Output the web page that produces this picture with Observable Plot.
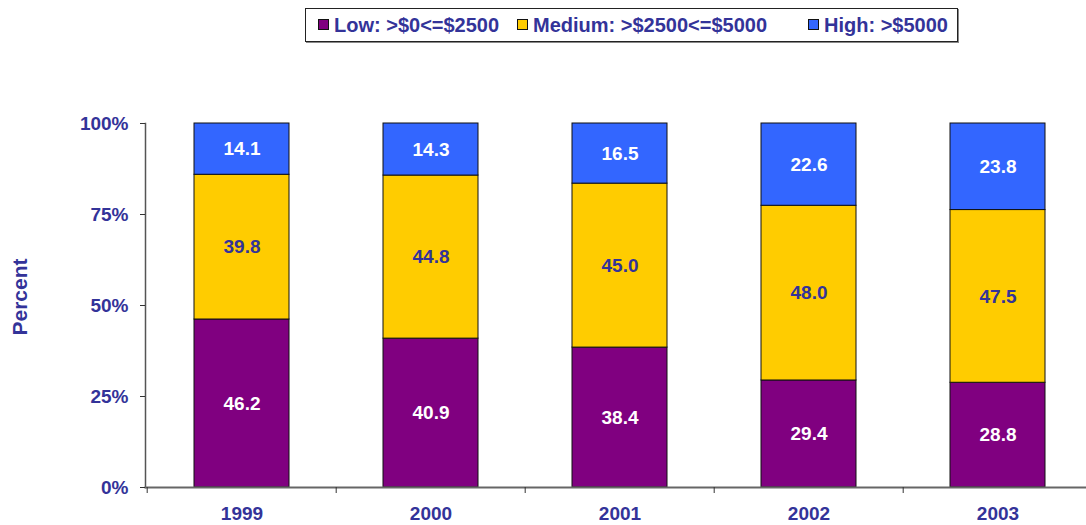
<!DOCTYPE html>
<html>
<head>
<meta charset="utf-8">
<script src="https://cdn.jsdelivr.net/npm/d3@7"></script>
<script src="https://cdn.jsdelivr.net/npm/@observablehq/plot@0.6"></script>
<style>
  html, body { margin: 0; padding: 0; background: #fff; overflow: hidden; }
  #wrap { position: relative; width: 1086px; height: 525px; overflow: hidden; font-family: "Liberation Sans", Arial, sans-serif; }
  #legend { position: absolute; left: 305px; top: 8px; width: 651px; height: 32px; border: 1.5px solid #222; box-shadow: 1px 1px 0 #888; background: #fff; }
  .item { position: absolute; top: 5px; font-weight: bold; font-size: 20px; color: #333399; white-space: nowrap; line-height: 22px; }
  .sw { display: inline-block; width: 9px; height: 9px; border: 1px solid #111; margin-right: 5px; vertical-align: 2px; }
  #ytitle { position: absolute; left: 20px; top: 297px; transform: translate(-50%, -50%) rotate(-90deg); font-weight: bold; font-size: 21px; color: #333399; white-space: nowrap; }
  #chart { position: absolute; left: 0; top: 0; }
</style>
</head>
<body>
<div id="wrap">
  <div id="chart"></div>
  <div id="legend"></div>
  <div id="ytitle">Percent</div>
</div>
<script>
const years = ["1999", "2000", "2001", "2002", "2003"];
const low = [46.2, 40.9, 38.4, 29.4, 28.8];
const medium = [39.8, 44.8, 45.0, 48.0, 47.5];
const high = [14.1, 14.3, 16.5, 22.6, 23.8];
const seriesNames = ["Low: >$0<=$2500", "Medium: >$2500<=$5000", "High: >$5000"];
const seriesColors = ["#800080", "#FFCC00", "#3366FF"];
const yTicks = [0, 0.25, 0.5, 0.75, 1];

const ink = "#333399";
const seriesValues = [low, medium, high];
const data = [];
seriesNames.forEach((s, si) => years.forEach((yr, i) => data.push({year: yr, series: s, value: seriesValues[si][i]})));

const W = 1093, ML = 145, MR = 0;
const halfBand = (W - ML - MR) / years.length / 2;

const stackOpts = {x: "year", y: "value", z: "series", order: seriesNames, offset: "normalize"};
const fs = 19;

const chart = Plot.plot({
  width: W,
  height: 525,
  marginTop: 123,
  marginBottom: 38,
  marginLeft: ML,
  marginRight: MR,
  style: {fontFamily: "'Liberation Sans', Arial, sans-serif", background: "white", maxWidth: "none"},
  x: {domain: years, paddingInner: 0.5, paddingOuter: 0.25, align: 0.5},
  y: {domain: [0, 1]},
  color: {domain: seriesNames, range: seriesColors},
  marks: [
    Plot.barY(data, Plot.stackY({...stackOpts, fill: "series", stroke: "#111", strokeWidth: 1})),
    Plot.text(data, Plot.stackY({...stackOpts, text: d => d.series !== seriesNames[1] ? d.value.toFixed(1) : "", fill: "white", fontSize: fs, fontWeight: "bold"})),
    Plot.text(data, Plot.stackY({...stackOpts, text: d => d.series === seriesNames[1] ? d.value.toFixed(1) : "", fill: ink, fontSize: fs, fontWeight: "bold"})),
    Plot.frame({anchor: "left", stroke: "#555", strokeWidth: 1.5}),
    Plot.frame({anchor: "bottom", stroke: "#666", strokeWidth: 2}),
    Plot.axisY({ticks: yTicks, tickFormat: d3.format(".0%"), tickSize: 5, tickPadding: 12, fontSize: fs, fontWeight: "bold", fill: ink, stroke: "#333", label: null}),
    Plot.axisX({tickSize: 6, tickFormat: () => "", dx: -halfBand, stroke: "#333", label: null}),
    Plot.axisX({tickSize: 0, tickPadding: 19, fontSize: fs, fontWeight: "bold", fill: ink, label: null})
  ]
});
document.getElementById("chart").appendChild(chart);

const legend = document.getElementById("legend");
const lefts = [12, 211, 502];
seriesNames.forEach((s, i) => {
  const el = document.createElement("div");
  el.className = "item";
  el.style.left = lefts[i] + "px";
  const sw = document.createElement("span");
  sw.className = "sw";
  sw.style.background = seriesColors[i];
  el.appendChild(sw);
  el.appendChild(document.createTextNode(s));
  legend.appendChild(el);
});
</script>
</body>
</html>
